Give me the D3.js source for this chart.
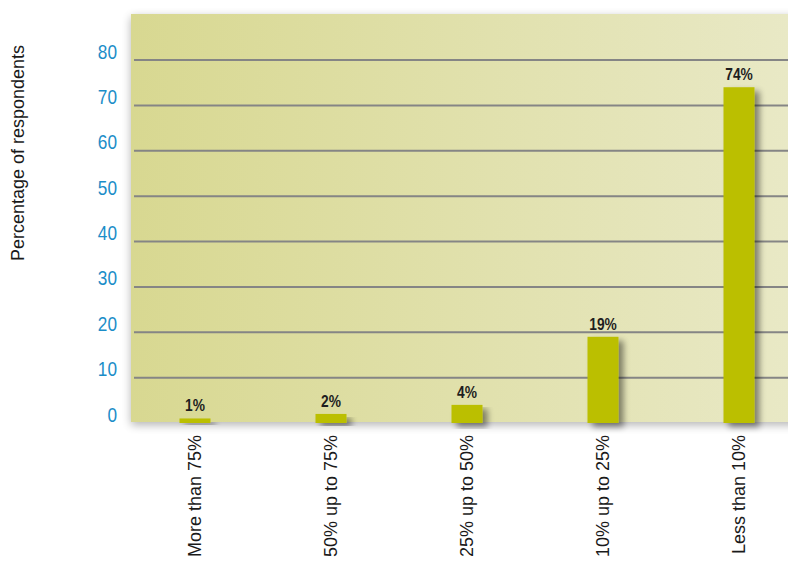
<!DOCTYPE html>
<html>
<head>
<meta charset="utf-8">
<script src="https://cdn.jsdelivr.net/npm/d3@7"></script>
<style>
  html, body { margin: 0; padding: 0; background: #ffffff; }
  svg { display: block; }
</style>
</head>
<body>
<svg id="chart" width="788" height="561"></svg>
<script>
// Share of respondents by category
const categories = ["More than 75%", "50% up to 75%", "25% up to 50%", "10% up to 25%", "Less than 10%"];
const values = [1, 2, 4, 19, 74];
const yTicks = [0, 10, 20, 30, 40, 50, 60, 70, 80];
const gridValues = [10, 20, 30, 40, 50, 60, 70, 80];
const yTitle = "Percentage of respondents";

const svg = d3.select("#chart");
const W = 788, H = 561;

const plot = { left: 131, top: 14, right: 810, bottom: 422 };

const x = d3.scaleBand()
  .domain(categories)
  .range([127, 807])
  .paddingInner(0.772)
  .paddingOuter(0.386);

const y = d3.scaleLinear()
  .domain([0, 80])
  .range([423, 60]);

const defs = svg.append("defs");

const grad = defs.append("linearGradient")
  .attr("id", "plotBg")
  .attr("x1", "0%").attr("x2", "100%")
  .attr("y1", "0%").attr("y2", "0%");
grad.append("stop").attr("offset", "0%").attr("stop-color", "#d8d891");
grad.append("stop").attr("offset", "100%").attr("stop-color", "#e9e9c7");

const panelShadow = defs.append("filter")
  .attr("id", "panelShadow")
  .attr("x", "-10%").attr("y", "-10%")
  .attr("width", "120%").attr("height", "125%");
panelShadow.append("feGaussianBlur").attr("in", "SourceAlpha").attr("stdDeviation", 5).attr("result", "b");
panelShadow.append("feOffset").attr("in", "b").attr("dx", 0).attr("dy", 3).attr("result", "o");
panelShadow.append("feComponentTransfer").attr("in", "o").attr("result", "s")
  .append("feFuncA").attr("type", "linear").attr("slope", 0.3);
const pm = panelShadow.append("feMerge");
pm.append("feMergeNode").attr("in", "s");
pm.append("feMergeNode").attr("in", "SourceGraphic");

const barShadow = defs.append("filter")
  .attr("id", "barShadow")
  .attr("x", "-30%").attr("y", "-10%")
  .attr("width", "180%").attr("height", "140%");
barShadow.append("feGaussianBlur").attr("in", "SourceAlpha").attr("stdDeviation", 3).attr("result", "b");
barShadow.append("feOffset").attr("in", "b").attr("dx", 5).attr("dy", 4).attr("result", "o");
barShadow.append("feComponentTransfer").attr("in", "o").attr("result", "s")
  .append("feFuncA").attr("type", "linear").attr("slope", 0.45);
const bm = barShadow.append("feMerge");
bm.append("feMergeNode").attr("in", "s");
bm.append("feMergeNode").attr("in", "SourceGraphic");

// Plot panel
svg.append("rect")
  .attr("x", plot.left).attr("y", plot.top)
  .attr("width", plot.right - plot.left)
  .attr("height", plot.bottom - plot.top)
  .attr("fill", "url(#plotBg)")
  .attr("filter", "url(#panelShadow)");

// Gridlines
svg.append("g")
  .selectAll("line")
  .data(gridValues)
  .join("line")
  .attr("x1", 134).attr("x2", W)
  .attr("y1", d => y(d)).attr("y2", d => y(d))
  .attr("stroke", "#858585")
  .attr("stroke-width", 2);

// Y tick labels (condensed)
svg.append("g")
  .selectAll("text")
  .data(yTicks)
  .join("text")
  .attr("transform", d => `translate(117,${y(d) - 1.5}) scale(0.82,1)`)
  .attr("text-anchor", "end")
  .attr("font-family", "'Liberation Sans', Arial, sans-serif")
  .attr("font-size", 21)
  .attr("fill", "#1b8dc8")
  .text(d => d);

// Y axis title
svg.append("text")
  .attr("transform", `translate(24,153) rotate(-90)`)
  .attr("text-anchor", "middle")
  .attr("font-family", "'Liberation Sans', Arial, sans-serif")
  .attr("font-size", 18)
  .attr("fill", "#1a1a1a")
  .text(yTitle);

// Bars
svg.append("g")
  .selectAll("rect")
  .data(values)
  .join("rect")
  .attr("x", (d, i) => x(categories[i]))
  .attr("y", d => y(d))
  .attr("width", x.bandwidth())
  .attr("height", d => y(0) - y(d))
  .attr("fill", "#bbbf00")
  .attr("filter", "url(#barShadow)");

// Value labels (condensed bold)
svg.append("g")
  .selectAll("text")
  .data(values)
  .join("text")
  .attr("transform", (d, i) => `translate(${x(categories[i]) + x.bandwidth() / 2},${y(d) - 7}) scale(0.86,1)`)
  .attr("text-anchor", "middle")
  .attr("font-family", "'Liberation Sans', Arial, sans-serif")
  .attr("font-weight", "bold")
  .attr("font-size", 16)
  .attr("fill", "#1e1e1e")
  .text(d => d + "%");

// Category labels
svg.append("g")
  .selectAll("text")
  .data(categories)
  .join("text")
  .attr("transform", d => `translate(${x(d) + x.bandwidth() / 2 + 6},435) rotate(-90)`)
  .attr("text-anchor", "end")
  .attr("font-family", "'Liberation Sans', Arial, sans-serif")
  .attr("font-size", 18)
  .attr("fill", "#1a1a1a")
  .text(d => d);
</script>
</body>
</html>
